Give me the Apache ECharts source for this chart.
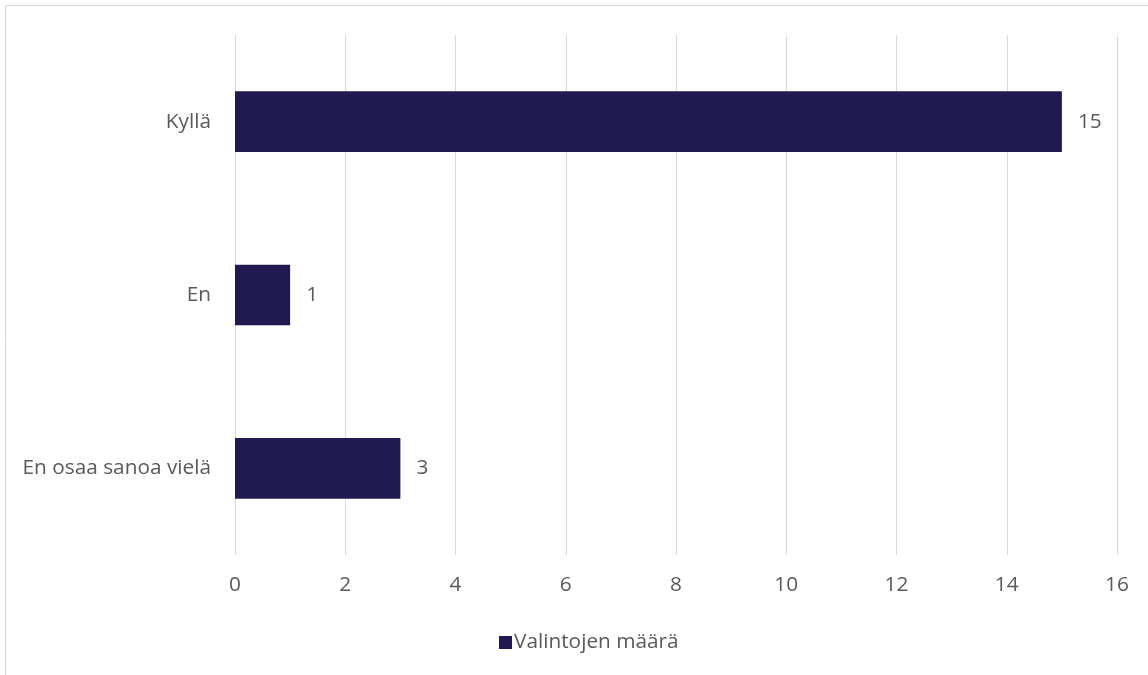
<!DOCTYPE html>
<html>
<head>
<meta charset="utf-8">
<script src="https://cdn.jsdelivr.net/npm/echarts@6/dist/echarts.min.js"></script>
<style>
  html, body { margin: 0; padding: 0; background: #fff; }
  #chart { width: 1148px; height: 675px; }
</style>
</head>
<body>
<div id="chart"></div>
<script>
// Survey answers and number of selections
const categories = ['En osaa sanoa vielä', 'En', 'Kyllä'];
const counts = [3, 1, 15];
const seriesName = 'Valintojen määrä';

const textColor = '#595959';
const font = "'Open Sans', 'Liberation Sans', sans-serif";
const fs = 20.8;

const chart = echarts.init(document.getElementById('chart'), null, { renderer: 'canvas' });
chart.setOption({
  backgroundColor: '#ffffff',
  animation: false,
  graphic: [{
    type: 'rect',
    shape: { x: 5.5, y: 5.5, width: 1170, height: 700 },
    style: { fill: 'none', stroke: '#d9d9d9', lineWidth: 1 },
    silent: true
  }],
  grid: { left: 235, right: 31, top: 35, bottom: 120 },
  legend: {
    left: 494,
    top: 627,
    itemWidth: 13,
    itemHeight: 13,
    itemGap: 4,
    icon: 'rect',
    textStyle: { color: textColor, fontSize: fs, fontFamily: font, padding: [0, 0, 0, -3] },
    data: [seriesName]
  },
  xAxis: {
    type: 'value',
    min: 0,
    max: 16,
    interval: 2,
    axisLine: { show: false },
    axisTick: { show: false },
    splitLine: { lineStyle: { color: '#d9d9d9', width: 1 } },
    axisLabel: { color: textColor, fontSize: fs, fontFamily: font, margin: 20 }
  },
  yAxis: {
    type: 'category',
    data: categories,
    axisLine: { show: false },
    axisTick: { show: false },
    axisLabel: { color: textColor, fontSize: fs, fontFamily: font, margin: 24 }
  },
  series: [{
    name: seriesName,
    type: 'bar',
    data: counts,
    barCategoryGap: '65%',
    itemStyle: { color: '#201a50' },
    label: {
      show: true,
      position: 'right',
      distance: 16,
      color: textColor,
      fontSize: fs,
      fontFamily: font
    }
  }]
});
</script>
</body>
</html>
